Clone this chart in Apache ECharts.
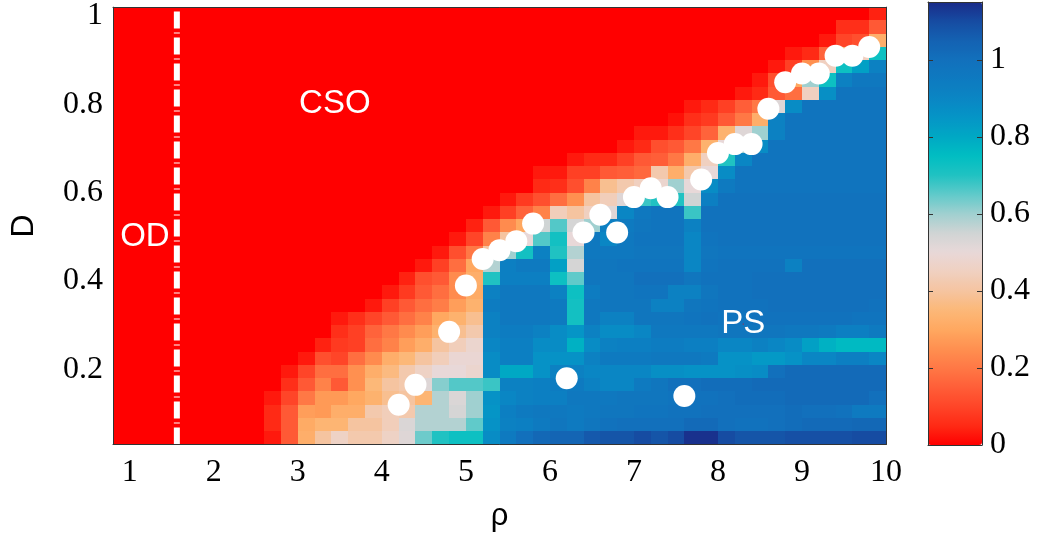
<!DOCTYPE html>
<html><head><meta charset="utf-8">
<script src="https://cdn.jsdelivr.net/npm/echarts@6/dist/echarts.min.js"></script>
<style>html,body{margin:0;padding:0;background:#fff}#c{width:1040px;height:542px}</style>
</head><body><div id="c"></div>
<script>
// ---- data ----
const rhoCenters = [0.9,1.1,1.3,1.5,1.7,1.9,2.1,2.3,2.5,2.7,2.9,3.1,3.3,3.5,3.7,3.9,4.1,4.3,4.5,4.7,4.9,5.1,5.3,5.5,5.7,5.9,6.1,6.3,6.5,6.7,6.9,7.1,7.3,7.5,7.7,7.9,8.1,8.3,8.5,8.7,8.9,9.1,9.3,9.5,9.7,9.9];
const dCenters = [0.045,0.075,0.105,0.135,0.165,0.195,0.225,0.255,0.285,0.315,0.345,0.375,0.405,0.435,0.465,0.495,0.525,0.555,0.585,0.615,0.645,0.675,0.705,0.735,0.765,0.795,0.825,0.855,0.885,0.915,0.945,0.975,1.005];
// one row per D value (bottom row first), one value per rho column
const zRows = [
[0,0,0,0,0,0,0,0,0, 0.03,0.14,0.32,0.4,0.46,0.42,0.42,0.46,0.52,0.64,0.7,0.73,0.73,0.88,0.95,1.0,1.03,1.04,1.04,1.07,1.08,1.08,1.1,1.08,1.1,1.14,1.14,1.1,1.08,1.08,1.08,1.09,1.09,1.09,1.09,1.1,1.1],
[0,0,0,0,0,0,0,0,0, 0.05,0.14,0.31,0.34,0.34,0.4,0.4,0.44,0.53,0.58,0.58,0.58,0.65,0.86,0.92,0.93,0.95,0.97,0.95,0.97,0.99,1.0,1.0,1.0,1.0,1.02,1.02,1.0,0.99,0.99,1.0,1.01,1.02,1.02,1.02,1.03,1.03],
[0,0,0,0,0,0,0,0,0, 0.05,0.14,0.28,0.27,0.32,0.32,0.42,0.44,0.42,0.58,0.58,0.54,0.6,0.85,0.93,0.95,0.96,0.96,0.95,0.96,0.97,0.97,0.98,0.98,0.99,0.99,1.0,1.0,1.0,1.0,1.0,1.01,1.0,1.0,0.99,0.95,0.95],
[0,0,0,0,0,0,0,0,0, 0.03,0.1,0.2,0.27,0.27,0.3,0.33,0.38,0.4,0.34,0.58,0.53,0.6,0.86,0.9,0.92,0.93,0.93,0.96,0.96,0.96,0.97,0.97,0.97,0.98,0.99,0.99,1.0,1.01,1.01,1.01,1.02,1.02,1.02,1.02,1.02,1.0],
[0,0,0,0,0,0,0,0,0,0, 0.06,0.14,0.22,0.14,0.25,0.35,0.4,0.42,0.52,0.62,0.66,0.66,0.68,0.92,0.92,0.93,0.94,0.95,0.92,0.9,0.9,0.95,0.97,1.0,1.0,1.01,1.01,1.01,1.02,1.02,1.02,1.02,1.02,1.02,1.02,1.02],
[0,0,0,0,0,0,0,0,0,0, 0.03,0.1,0.18,0.18,0.25,0.32,0.36,0.42,0.46,0.5,0.5,0.48,0.88,0.8,0.8,0.86,0.92,0.92,0.9,0.9,0.9,0.9,0.87,0.87,0.86,0.86,0.86,0.87,0.88,1.0,1.02,1.02,1.02,1.02,1.02,1.02],
[0,0,0,0,0,0,0,0,0,0, 0, 0.03,0.12,0.1,0.18,0.24,0.32,0.35,0.4,0.44,0.49,0.49,0.88,0.93,0.93,0.86,0.86,0.86,0.92,0.95,0.95,0.95,0.96,0.96,0.96,0.95,0.86,0.86,0.84,0.84,0.86,0.9,0.9,0.93,0.93,0.9],
[0,0,0,0,0,0,0,0,0,0, 0,0, 0.04,0.08,0.09,0.18,0.22,0.28,0.32,0.4,0.44,0.48,0.9,0.93,0.93,0.88,0.88,0.78,0.88,0.92,0.93,0.93,0.94,0.94,0.93,0.93,0.9,0.9,0.92,0.9,0.88,0.82,0.78,0.76,0.76,0.76],
[0,0,0,0,0,0,0,0,0,0, 0,0,0, 0.06,0.09,0.16,0.2,0.24,0.28,0.33,0.38,0.42,0.92,0.94,0.94,0.92,0.88,0.85,0.92,0.88,0.88,0.9,0.96,0.96,0.96,0.96,0.97,0.97,0.97,0.97,0.96,0.96,0.95,0.93,0.93,0.95],
[0,0,0,0,0,0,0,0,0,0, 0,0,0, 0.03,0.06,0.1,0.14,0.18,0.22,0.3,0.33,0.38,0.92,0.96,0.96,0.96,0.95,0.72,0.96,0.92,0.92,0.97,0.97,0.97,0.98,0.99,0.98,0.98,0.99,0.99,0.99,0.99,0.99,0.99,0.98,0.98],
[0,0,0,0,0,0,0,0,0,0, 0,0,0,0,0, 0.03,0.09,0.14,0.18,0.21,0.28,0.33,0.94,0.96,0.96,0.96,0.95,0.72,0.96,0.97,0.97,0.97,0.92,0.92,0.97,0.98,0.99,0.99,0.99,1.0,1.0,1.0,1.0,1.0,1.0,0.99],
[0,0,0,0,0,0,0,0,0,0, 0,0,0,0,0,0, 0.03,0.08,0.14,0.18,0.24,0.31,0.92,0.96,0.96,0.96,0.92,0.73,0.94,0.97,0.97,0.98,0.98,0.92,0.92,0.97,0.99,0.99,1.0,1.0,1.0,1.0,1.0,1.0,1.0,1.0],
[0,0,0,0,0,0,0,0,0,0, 0,0,0,0,0,0,0, 0.04,0.12,0.14,0.24,0.32,0.7,0.93,0.93,0.93,0.73,0.65,0.97,0.97,0.97,1.0,1.0,1.0,0.97,0.99,0.99,0.99,1.0,1.0,1.0,1.0,1.0,1.0,1.0,1.0],
[0,0,0,0,0,0,0,0,0,0, 0,0,0,0,0,0,0,0, 0.03,0.09,0.18,0.3,0.58,0.93,0.95,0.95,0.82,0.54,0.97,0.97,0.98,0.98,0.98,0.98,0.9,0.98,0.99,0.99,0.99,0.99,0.92,1.0,1.0,1.0,1.0,1.0],
[0,0,0,0,0,0,0,0,0,0, 0,0,0,0,0,0,0,0,0, 0.03,0.12,0.2,0.4,0.6,0.72,0.92,0.7,0.58,0.96,0.96,0.96,0.97,0.97,0.97,0.9,0.97,0.98,0.98,0.98,0.98,0.98,0.98,0.98,0.98,0.98,0.98],
[0,0,0,0,0,0,0,0,0,0, 0,0,0,0,0,0,0,0,0,0, 0.03,0.1,0.22,0.4,0.5,0.66,0.72,0.5,0.96,0.9,0.96,0.98,0.98,0.98,0.9,0.98,0.99,0.99,0.99,0.99,0.99,0.99,0.99,0.99,0.99,0.99],
[0,0,0,0,0,0,0,0,0,0, 0,0,0,0,0,0,0,0,0,0, 0, 0.04,0.14,0.24,0.3,0.55,0.66,0.54,0.6,0.93,0.95,0.97,0.98,0.98,0.92,0.99,0.99,0.99,0.99,0.99,0.99,0.99,0.99,0.99,0.99,0.99],
[0,0,0,0,0,0,0,0,0,0, 0,0,0,0,0,0,0,0,0,0, 0,0, 0.03,0.09,0.16,0.22,0.44,0.4,0.45,0.52,0.9,0.96,0.98,0.98,0.68,0.99,0.99,0.99,0.99,0.99,0.99,0.99,0.99,0.99,0.99,0.99],
[0,0,0,0,0,0,0,0,0,0, 0,0,0,0,0,0,0,0,0,0, 0,0,0, 0.03,0.08,0.12,0.18,0.25,0.4,0.44,0.52,0.68,0.7,0.7,0.55,0.93,0.99,0.99,0.99,0.99,0.99,0.99,0.99,0.99,0.99,0.99],
[0,0,0,0,0,0,0,0,0,0, 0,0,0,0,0,0,0,0,0,0, 0,0,0,0,0, 0.05,0.06,0.12,0.22,0.38,0.42,0.45,0.48,0.6,0.5,0.88,0.95,0.98,0.98,0.98,0.98,0.98,0.98,0.98,0.98,0.98],
[0,0,0,0,0,0,0,0,0,0, 0,0,0,0,0,0,0,0,0,0, 0,0,0,0,0, 0.03,0.03,0.09,0.09,0.14,0.15,0.17,0.42,0.32,0.42,0.5,0.88,0.98,0.98,0.98,0.98,0.98,0.98,0.98,0.98,0.98],
[0,0,0,0,0,0,0,0,0,0, 0,0,0,0,0,0,0,0,0,0, 0,0,0,0,0,0,0, 0.03,0.05,0.05,0.09,0.14,0.15,0.2,0.32,0.45,0.7,0.9,0.98,0.98,0.98,0.98,0.98,0.98,0.98,0.98],
[0,0,0,0,0,0,0,0,0,0, 0,0,0,0,0,0,0,0,0,0, 0,0,0,0,0,0,0,0,0,0, 0.03,0.05,0.12,0.14,0.2,0.33,0.5,0.6,0.88,0.98,0.98,0.98,0.98,0.98,0.98,0.98],
[0,0,0,0,0,0,0,0,0,0, 0,0,0,0,0,0,0,0,0,0, 0,0,0,0,0,0,0,0,0,0, 0, 0.03,0.03,0.06,0.1,0.16,0.33,0.52,0.6,0.92,0.98,0.98,0.98,0.98,0.98,0.98],
[0,0,0,0,0,0,0,0,0,0, 0,0,0,0,0,0,0,0,0,0, 0,0,0,0,0,0,0,0,0,0, 0,0,0, 0.02,0.06,0.08,0.14,0.2,0.32,0.92,0.98,0.98,0.98,0.98,0.98,0.98],
[0,0,0,0,0,0,0,0,0,0, 0,0,0,0,0,0,0,0,0,0, 0,0,0,0,0,0,0,0,0,0, 0,0,0,0, 0.03,0.05,0.09,0.15,0.2,0.52,0.88,0.98,0.98,0.98,0.98,0.98],
[0,0,0,0,0,0,0,0,0,0, 0,0,0,0,0,0,0,0,0,0, 0,0,0,0,0,0,0,0,0,0, 0,0,0,0,0,0,0, 0.03,0.05,0.14,0.18,0.45,0.87,0.98,0.98,0.98],
[0,0,0,0,0,0,0,0,0,0, 0,0,0,0,0,0,0,0,0,0, 0,0,0,0,0,0,0,0,0,0, 0,0,0,0,0,0,0,0, 0.03,0.12,0.3,0.6,0.73,0.92,0.96,0.96],
[0,0,0,0,0,0,0,0,0,0, 0,0,0,0,0,0,0,0,0,0, 0,0,0,0,0,0,0,0,0,0, 0,0,0,0,0,0,0,0,0, 0.03,0.09,0.25,0.45,0.73,0.82,0.92],
[0,0,0,0,0,0,0,0,0,0, 0,0,0,0,0,0,0,0,0,0, 0,0,0,0,0,0,0,0,0,0, 0,0,0,0,0,0,0,0,0,0, 0.03,0.05,0.16,0.35,0.45,0.73],
[0,0,0,0,0,0,0,0,0,0, 0,0,0,0,0,0,0,0,0,0, 0,0,0,0,0,0,0,0,0,0, 0,0,0,0,0,0,0,0,0,0, 0,0, 0.03,0.1,0.12,0.32],
[0,0,0,0,0,0,0,0,0,0, 0,0,0,0,0,0,0,0,0,0, 0,0,0,0,0,0,0,0,0,0, 0,0,0,0,0,0,0,0,0,0, 0,0,0, 0.06,0.06,0.14],
[0,0,0,0,0,0,0,0,0,0, 0,0,0,0,0,0,0,0,0,0, 0,0,0,0,0,0,0,0,0,0, 0,0,0,0,0,0,0,0,0,0, 0,0,0,0,0, 0.04]
];
const dotRho = [4.2,4.4,4.8,5.0,5.2,5.4,5.6,5.8,6.4,6.6,6.8,7.0,7.2,7.4,7.8,8.0,8.2,8.4,8.6,8.8,9.0,9.2,9.4,9.6,9.8,6.2,7.6];
const dotD   = [0.12,0.165,0.285,0.39,0.45,0.47,0.49,0.53,0.51,0.55,0.51,0.59,0.61,0.59,0.63,0.69,0.71,0.71,0.79,0.85,0.87,0.87,0.91,0.91,0.93,0.18,0.14];
const regionNames = ['CSO','OD','PS'];
const regionRho = [3.44,1.18,8.3];
const regionD = [0.80,0.50,0.303];
const odLineRho = 1.56;
const xTicks = [1,2,3,4,5,6,7,8,9,10];
const yTicks = [0.2,0.4,0.6,0.8,1];
const cbTicks = [0,0.2,0.4,0.6,0.8,1];
const cmap = ['#FF0000','#FF2A15','#FF4528','#FF5E38','#FF7845','#FF9050','#FFA860','#FCB878','#F5C4A0','#F0D0C0','#E8D8D8','#D0D4D4','#A0D0D0','#60CACA','#20C2C2','#00BEC2','#00A8C4','#0595C6','#0A86C4','#0E7AC0','#1270BC','#1462B2','#164CA2','#1A2A88'];

// ---- build chart ----
const cells = [];
zRows.forEach((row, i) => row.forEach((v, j) => cells.push([rhoCenters[j], dCenters[i], v])));
const halfW = 0.1, halfH = 0.015;
const serif = '"Liberation Serif","Times New Roman",serif';
const sans = '"Liberation Sans",Arial,sans-serif';
const frameLine = {show:true, onZero:false, lineStyle:{color:'#333', width:1}};
const plain = {show:false};

const chart = echarts.init(document.getElementById('c'));
chart.setOption({
  animation:false,
  grid:[{left:110, top:1, width:776, height:443.5}, {left:928, top:2, width:54, height:443}],
  xAxis:[
    {gridIndex:0, type:'value', min:0.8, max:10, position:'bottom', z:10, axisLine:frameLine, axisTick:plain, splitLine:plain,
     axisLabel:{customValues:xTicks, fontFamily:serif, fontSize:32, color:'#000', margin:12},
     name:'ρ', nameLocation:'middle', nameGap:56, nameTextStyle:{fontFamily:sans, fontSize:31, color:'#000'}},
    {gridIndex:0, type:'value', min:0.8, max:10, position:'top', z:10, axisLine:frameLine, axisTick:plain, splitLine:plain, axisLabel:plain},
    {gridIndex:1, type:'value', min:0, max:1, position:'bottom', z:10, axisLine:frameLine, axisTick:plain, splitLine:plain, axisLabel:plain},
    {gridIndex:1, type:'value', min:0, max:1, position:'top', z:10, axisLine:frameLine, axisTick:plain, splitLine:plain, axisLabel:plain}
  ],
  yAxis:[
    {gridIndex:0, type:'value', min:0.03, max:1.02, position:'left', z:10, axisLine:frameLine, axisTick:plain, splitLine:plain,
     axisLabel:{customValues:yTicks, fontFamily:serif, fontSize:32, color:'#000', margin:10},
     name:'D', nameLocation:'middle', nameGap:73, nameTextStyle:{fontFamily:sans, fontSize:32, color:'#000'}},
    {gridIndex:0, type:'value', min:0.03, max:1.02, position:'right', z:10, axisLine:frameLine, axisTick:plain, splitLine:plain, axisLabel:plain},
    {gridIndex:1, type:'value', min:0, max:1.15, position:'right', z:10, axisLine:frameLine, splitLine:plain,
     axisTick:{show:true, inside:true, length:5, customValues:cbTicks, lineStyle:{color:'#333'}},
     axisLabel:{customValues:cbTicks, fontFamily:serif, fontSize:32, color:'#000', margin:8}},
    {gridIndex:1, type:'value', min:0, max:1.15, position:'left', z:10, axisLine:frameLine, splitLine:plain,
     axisTick:{show:true, inside:true, length:5, customValues:cbTicks, lineStyle:{color:'#333'}}, axisLabel:plain}
  ],
  visualMap:{type:'continuous', min:0, max:1.15, seriesIndex:0, dimension:2, left:928, top:2, itemWidth:54, itemHeight:443,
    padding:0, calculable:false, hoverLink:false, inRange:{color:cmap}},
  series:[
    {type:'custom', xAxisIndex:0, yAxisIndex:0, data:cells, dimensions:['rho','D','z'], encode:{x:0, y:1}, silent:true, progressive:0,
     renderItem:(params, api) => {
       const x = api.value(0), y = api.value(1);
       const p0 = api.coord([x - halfW, y + halfH]);
       const p1 = api.coord([x + halfW, y - halfH]);
       const x0 = Math.round(p0[0]), y0 = Math.round(p0[1]);
       const x1 = Math.round(p1[0]), y1 = Math.round(p1[1]);
       return {type:'rect', shape:{x:x0, y:y0, width:x1-x0, height:y1-y0}, style:{fill:api.visual('color'), stroke:null}};
     }},
    {type:'line', xAxisIndex:0, yAxisIndex:0, data:[[odLineRho,0.03],[odLineRho,1.02]], symbol:'none', silent:true, z:5,
     lineStyle:{color:'#fff', width:6, type:[17,4,1,4], cap:'butt'}},
    {type:'scatter', xAxisIndex:0, yAxisIndex:0, data:dotRho.map((r,k)=>[r, dotD[k]]), symbolSize:22, silent:true, z:6,
     itemStyle:{color:'#fff', opacity:1}},
    {type:'scatter', xAxisIndex:0, yAxisIndex:0, data:regionNames.map((n,k)=>({name:n, value:[regionRho[k], regionD[k]]})), symbolSize:1, silent:true, z:7,
     itemStyle:{color:'#ff0000', opacity:1},
     label:{show:true, position:'inside', formatter:p=>p.name, color:'#ffffff', opacity:1, fontFamily:sans, fontSize:33}}
  ]
});
</script></body></html>
